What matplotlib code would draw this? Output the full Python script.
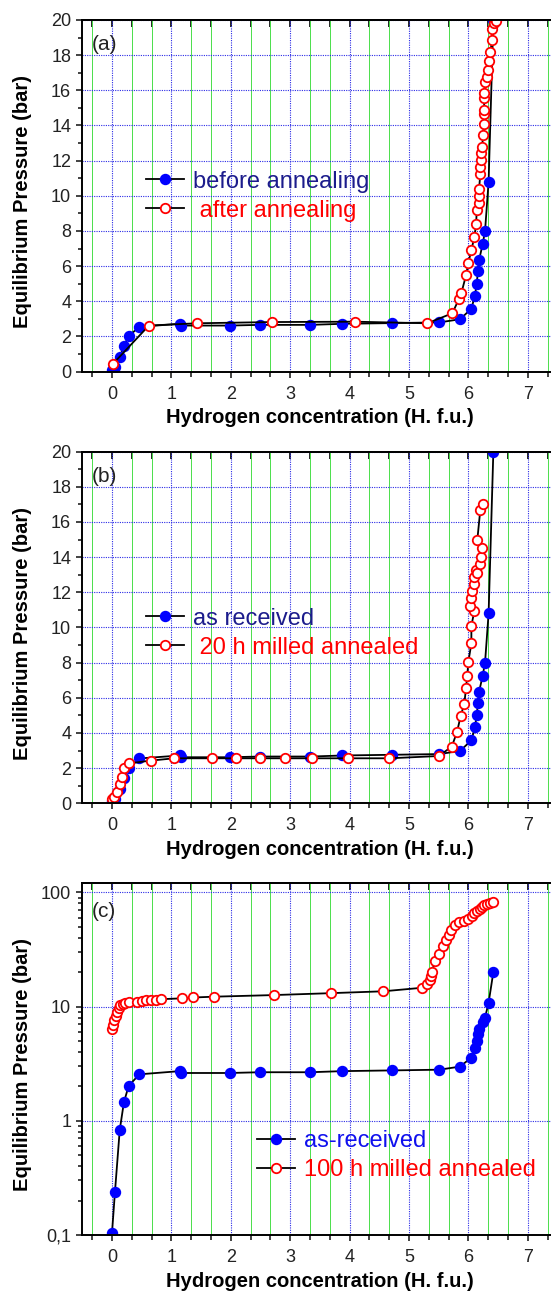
import numpy as np
import matplotlib
matplotlib.use('Agg')
import matplotlib.pyplot as plt
from matplotlib.ticker import (MultipleLocator, AutoMinorLocator, FixedLocator,
                               FixedFormatter, LogLocator, NullFormatter)

plt.rcParams['font.family'] = ['Liberation Sans', 'DejaVu Sans']

# as-received sample (same isotherm shown in all three panels)
received_x = [0.0, 0.05, 0.13, 0.20, 0.28, 0.46, 1.14, 1.16, 1.98, 2.49, 3.34, 3.88,
              4.72, 5.51, 5.86, 6.05, 6.11, 6.14, 6.16, 6.18, 6.24, 6.28, 6.34, 6.42]
received_p = [0.105, 0.24, 0.83, 1.45, 2.02, 2.55, 2.72, 2.62, 2.62, 2.66, 2.66, 2.72,
              2.76, 2.80, 2.98, 3.58, 4.32, 5.0, 5.7, 6.35, 7.25, 8.0, 10.8, 20.0]

# (a) after annealing
annealed_x = [0.01, 0.62, 1.43, 2.70, 4.09, 5.31, 5.73, 5.84, 5.88, 5.96, 6.00, 6.05,
              6.10, 6.13, 6.14, 6.17, 6.18, 6.18, 6.20, 6.20, 6.21, 6.22, 6.23, 6.25,
              6.26, 6.26, 6.27, 6.26, 6.27, 6.28, 6.31, 6.33, 6.34, 6.37, 6.40, 6.40,
              6.43, 6.46]
annealed_p = [0.42, 2.62, 2.75, 2.82, 2.84, 2.75, 3.32, 4.13, 4.45, 5.48, 6.20, 6.92,
              7.64, 8.38, 9.19, 9.57, 10.0, 10.41, 11.22, 11.66, 12.04, 12.42, 12.80, 13.46,
              14.07, 14.63, 14.88, 15.56, 15.87, 16.49, 16.74, 17.16, 17.67, 18.2, 18.86, 19.47,
              19.81, 19.96]

# (b) 20 h milled + annealed
milled20_x = [0.0, 0.04, 0.09, 0.13, 0.16, 0.20, 0.29, 0.65, 1.05, 1.69, 2.09, 2.49,
              2.92, 3.36, 3.98, 4.67, 5.50, 5.72, 5.81, 5.87, 5.93, 5.96, 5.98, 6.00,
              6.05, 6.05, 6.10, 6.03, 6.05, 6.06, 6.09, 6.10, 6.12, 6.14, 6.19, 6.21,
              6.23, 6.15, 6.20, 6.25]
milled20_p = [0.23, 0.35, 0.66, 1.08, 1.52, 1.99, 2.27, 2.43, 2.56, 2.56, 2.56, 2.56,
              2.56, 2.56, 2.56, 2.56, 2.69, 3.22, 4.08, 4.97, 5.65, 6.54, 7.26, 8.06,
              9.10, 10.09, 10.94, 11.24, 11.66, 12.07, 12.47, 12.85, 13.27, 13.1, 13.61, 13.99,
              14.50, 14.98, 16.68, 17.02]

# (c) 100 h milled + annealed
milled100_x = [0.0, 0.02, 0.04, 0.06, 0.08, 0.11, 0.14, 0.18, 0.22, 0.28, 0.42, 0.50,
               0.58, 0.66, 0.74, 0.83, 1.18, 1.37, 1.72, 2.72, 3.69, 4.57, 5.22, 5.30,
               5.35, 5.37, 5.39, 5.43, 5.50, 5.57, 5.62, 5.67, 5.71, 5.78, 5.85, 5.92,
               5.99, 6.06, 6.10, 6.14, 6.19, 6.23, 6.27, 6.31, 6.36, 6.41]
milled100_p = [6.3, 6.9, 7.6, 8.3, 9.0, 9.8, 10.3, 10.6, 10.8, 10.9, 11.0, 11.2,
               11.3, 11.4, 11.4, 11.6, 11.8, 12.0, 12.2, 12.6, 13.1, 13.6, 14.6, 15.6,
               17.0, 18.5, 20.0, 24.8, 28.9, 33.8, 38.6, 42.7, 46.6, 52.2, 54.7, 56.6,
               58.5, 61.7, 66.0, 69.2, 72.0, 74.4, 77.0, 79.0, 80.7, 81.8]

log_ticks = [0.1, 1, 10, 100]
log_tick_labels = ['0,1', '1', '10', '100']

BLUE = '#0000ff'
RED = '#ff0000'
NAVY = '#1c1c8c'
GRID_BLUE = '#2a2ae6'
GRID_GREEN = '#4ade4a'

fig = plt.figure(figsize=(5.51, 12.94), dpi=100)
left, width = 0.1494, 0.8624
ax_a = fig.add_axes([left, 0.7128, width, 0.2718])
ax_b = fig.add_axes([left, 0.3792, width, 0.2718])
ax_c = fig.add_axes([left, 0.0456, width, 0.2720])


def style(ax, tag, log=False):
    ax.set_xlim(-0.5, 7.5)
    ax.xaxis.set_major_locator(MultipleLocator(1))
    ax.xaxis.set_minor_locator(AutoMinorLocator(3))
    if log:
        ax.set_yscale('log')
        ax.set_ylim(0.1, 120.6)
        ax.yaxis.set_major_locator(FixedLocator(log_ticks))
        ax.yaxis.set_major_formatter(FixedFormatter(log_tick_labels))
        ax.yaxis.set_minor_locator(LogLocator(base=10, subs=np.arange(2, 10)))
        ax.yaxis.set_minor_formatter(NullFormatter())
    else:
        ax.set_ylim(0, 20)
        ax.yaxis.set_major_locator(MultipleLocator(2))
        ax.yaxis.set_minor_locator(AutoMinorLocator(2))

    ax.set_axisbelow(True)
    ax.grid(which='major', axis='both', color=GRID_BLUE, linestyle=(0, (1, 1.1)), linewidth=0.8)
    ax.grid(which='minor', axis='x', color=GRID_GREEN, linestyle='-', linewidth=0.7)

    for s in ax.spines.values():
        s.set_linewidth(1.4)
    ax.spines['right'].set_visible(False)

    ax.tick_params(axis='both', which='both', direction='out', width=1.2,
                   labelsize=13, colors='#222222')
    ax.tick_params(axis='y', which='major', length=4.5, pad=3.5)
    ax.tick_params(axis='y', which='minor', length=2.6)
    ax.tick_params(axis='x', which='major', length=4, pad=6)
    ax.tick_params(axis='x', which='minor', length=3.6)

    top = ax.secondary_xaxis('top')
    top.xaxis.set_major_locator(MultipleLocator(1))
    top.xaxis.set_minor_locator(AutoMinorLocator(3))
    top.tick_params(axis='x', which='both', direction='in', length=5, width=1.2,
                    labeltop=False)
    top.spines['top'].set_linewidth(1.4)

    ax.set_xlabel('Hydrogen concentration (H. f.u.)', fontsize=14.5,
                  fontweight='bold', va='center')
    ax.xaxis.set_label_coords(0.5, -0.131)
    ax.set_ylabel('Equilibrium Pressure (bar)', fontsize=14.5,
                  fontweight='bold', va='center')
    ax.yaxis.set_label_coords(-0.126, 0.483)

    ax.text(0.02, 0.93 if not log else 0.92, tag, transform=ax.transAxes,
            fontsize=15, ha='left', va='center', color='#222222')


def filled(ax, x, y, label):
    return ax.plot(x, y, '-', color='black', lw=1.3, marker='o', ms=7.2,
                   mfc=BLUE, mec=BLUE, label=label)[0]


def hollow(ax, x, y, label):
    return ax.plot(x, y, '-', color='black', lw=1.3, marker='o', ms=6.8,
                   mfc='white', mec=RED, mew=1.3, label=label)[0]


def legend(ax, handles, colors, anchor):
    leg = ax.legend(handles=handles, loc='center left', bbox_to_anchor=anchor,
                    frameon=False, fontsize=17, handlelength=1.6,
                    handletextpad=0.4, borderpad=0, borderaxespad=0,
                    labelspacing=0.3, numpoints=1)
    for t, c in zip(leg.get_texts(), colors):
        t.set_color(c)


# (a)
style(ax_a, '(a)')
h1 = filled(ax_a, received_x, received_p, 'before annealing')
h2 = hollow(ax_a, annealed_x, annealed_p, ' after annealing')
legend(ax_a, [h1, h2], [NAVY, RED], (0.134, 0.499))

# (b)
style(ax_b, '(b)')
h1 = filled(ax_b, received_x, received_p, 'as received')
h2 = hollow(ax_b, milled20_x, milled20_p, ' 20 h milled annealed')
legend(ax_b, [h1, h2], [NAVY, RED], (0.134, 0.484))

# (c)
style(ax_c, '(c)', log=True)
h1 = filled(ax_c, received_x, received_p, 'as-received')
h2 = hollow(ax_c, milled100_x, milled100_p, '100 h milled annealed')
legend(ax_c, [h1, h2], ['#1010ee', RED], (0.3675, 0.225))

fig.savefig('out.png', dpi=100)
